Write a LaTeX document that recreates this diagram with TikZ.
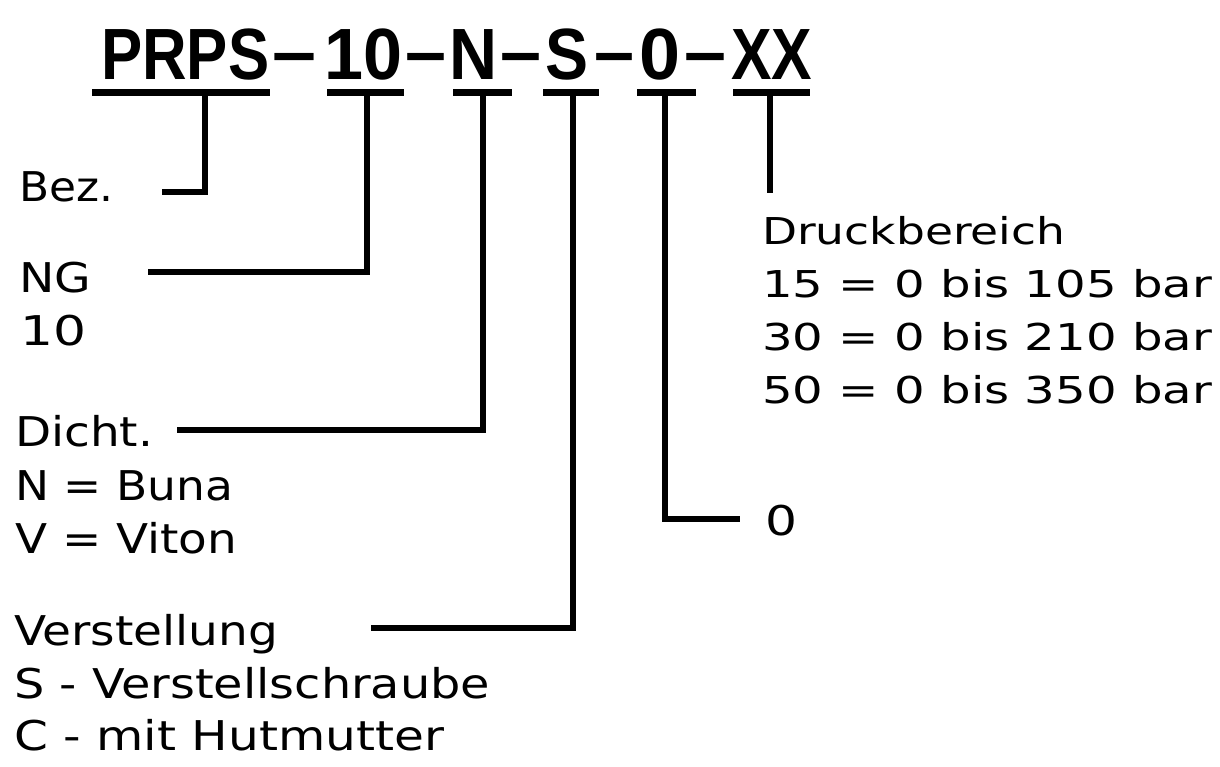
\documentclass[tikz,border=0pt]{standalone}
\usepackage{fontspec}
\usepackage{graphicx}
\setmainfont{DejaVu Sans}
\newfontfamily\titlefont{Liberation Sans}
\newcommand\fitw[2]{\resizebox{#1pt}{\height}{#2}}
\begin{document}
\begin{tikzpicture}[x=1pt,y=-1pt,
  ttl/.style={anchor=base west, inner sep=0pt, font={\titlefont\bfseries\fontsize{72.6}{72.6}\selectfont}},
  lbl/.style={anchor=base west, inner sep=0pt, font={\fontsize{41}{41}\selectfont}},
  lblr/.style={anchor=base west, inner sep=0pt, font={\fontsize{37}{37}\selectfont}},
  ul/.style={line width=7pt},
  conn/.style={line width=6pt, line join=miter}]
\useasboundingbox[fill=white] (0,0) rectangle (1220,767);
% title segments
\node[ttl] (t1) at (101,80) {\fitw{168}{PRPS}};
\node[ttl] (d1) at (272,80) {\fitw{44}{\raisebox{3pt}{–}}};
\node[ttl] (t2) at (324,80) {\fitw{78}{10}};
\node[ttl] (d2) at (405,80) {\fitw{41}{\raisebox{3pt}{–}}};
\node[ttl] (t3) at (449,80) {\fitw{48}{N}};
\node[ttl] (d3) at (500,80) {\fitw{41}{\raisebox{3pt}{–}}};
\node[ttl] (t4) at (545,80) {\fitw{43}{S}};
\node[ttl] (d4) at (594,80) {\fitw{40}{\raisebox{3pt}{–}}};
\node[ttl] (t5) at (639,80) {\fitw{41}{0}};
\node[ttl] (d5) at (684,80) {\fitw{42}{\raisebox{3pt}{–}}};
\node[ttl] (t6) at (731,80) {\fitw{81}{XX}};
% underlines
\draw[ul] (92,93) -- (270,93);
\draw[ul] (327,93) -- (404,93);
\draw[ul] (453,93) -- (512,93);
\draw[ul] (543,93) -- (599,93);
\draw[ul] (637,93) -- (696,93);
\draw[ul] (733,93) -- (810,93);
% connector anchors
\coordinate (u1) at (205,93);
\coordinate (u2) at (367,93);
\coordinate (u3) at (483,93);
\coordinate (u4) at (573,93);
\coordinate (u5) at (665,93);
\coordinate (u6) at (770,93);
\coordinate (e1) at (162,192);
\coordinate (e2) at (148,272);
\coordinate (e3) at (177,430);
\coordinate (e4) at (371,628);
\coordinate (e5) at (740,519);
\coordinate (e6) at (770,193);
% left labels
\node[lbl] (bez) at (19,202) {\fitw{94}{Bez.}};
\node[lbl] (ng) at (19,292) {\fitw{72}{NG}};
\node[lbl] (ng10) at (20,345) {\fitw{66}{10}};
\node[lbl] (dicht) at (15,446) {\fitw{138}{Dicht.}};
\node[lbl] (buna) at (15,500) {\fitw{218}{N = Buna}};
\node[lbl] (viton) at (15,553) {\fitw{222}{V = Viton}};
\node[lbl] (verst) at (14,645) {\fitw{264}{Verstellung}};
\node[lbl] (vs) at (14,698) {\fitw{476}{S - Verstellschraube}};
\node[lbl] (hut) at (14,750) {\fitw{430}{C - mit Hutmutter}};
% right labels
\node[lblr] (druck) at (762,245) {\fitw{303}{Druckbereich}};
\node[lblr] (p15) at (762,298) {\fitw{450}{15 = 0 bis 105 bar}};
\node[lblr] (p30) at (762,350) {\fitw{450}{30 = 0 bis 210 bar}};
\node[lblr] (p50) at (762,403) {\fitw{450}{50 = 0 bis 350 bar}};
\node[lbl] (null) at (765,535) {\fitw{32}{0}};
% connectors
\draw[conn] (u1) |- (e1);
\draw[conn] (u2) |- (e2);
\draw[conn] (u3) |- (e3);
\draw[conn] (u4) |- (e4);
\draw[conn] (u5) |- (e5);
\draw[conn] (u6) -- (e6);
\end{tikzpicture}
\end{document}
